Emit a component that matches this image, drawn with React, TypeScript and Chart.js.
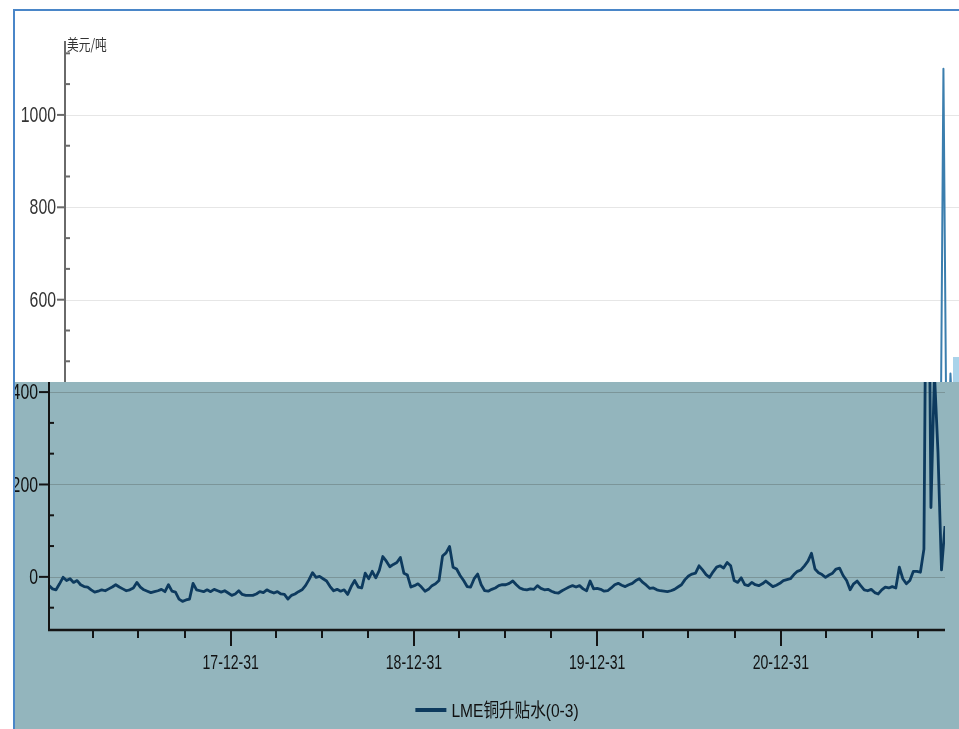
import React, { useEffect, useRef } from 'react';
import { Chart, registerables } from 'chart.js';

Chart.register(...registerables);

// ---------------- data ----------------
const startDate = '2017-01-03';
const stepDays = 7;

const spreadValues: number[] = [
  // 2017
  -19, -26, -28, -15, -1, -8, -4, -12, -8, -17,
  -21, -22, -28, -33, -31, -28, -30, -26, -22, -17,
  -22, -26, -30, -28, -24, -12, -22, -28, -31, -34,
  -32, -30, -27, -32, -17, -31, -33, -48, -53, -50,
  -48, -14, -28, -30, -32, -28, -32, -27, -30, -33,
  -30,
  // 2018
  -35, -40, -37, -30, -38, -40, -40, -40, -37,
  -32, -34, -28, -32, -35, -32, -37, -38, -48, -40,
  -37, -32, -28, -19, -6, 9, -1, 1, -4, -9,
  -21, -30, -27, -31, -28, -38, -21, -8, -22, -24,
  8, -4, 12, -2, 14, 44, 34, 22, 27, 31,
  // 2019
  42, 8, 4, -22, -19, -15, -22, -31, -27, -19,
  -15, -8, 45, 52, 66, 21, 17, 3, -8, -21,
  -22, -4, 6, -17, -30, -31, -27, -24, -19, -17,
  -17, -14, -9, -17, -24, -27, -28, -26, -27, -19,
  -25, -28, -27, -31, -34, -35, -30, -26, -22, -19,
  // 2020
  -22, -19, -26, -30, -9, -26, -25, -27, -31,
  -30, -24, -17, -14, -18, -21, -17, -14, -8, -4,
  -12, -18, -25, -24, -28, -30, -31, -32, -30, -27,
  -22, -17, -6, 2, 6, 8, 24, 15, 5, -1,
  11, 21, 24, 19, 31, 24, -8, -12, -2, -17,
  // 2021
  -19, -12, -17, -19, -15, -9, -15, -21, -18, -14,
  -8, -6, -4, 5, 12, 15, 24, 34, 51, 17,
  9, 5, -1, 4, 8, 17, 19, 3, -8, -28,
  -15, -9, -19, -28, -30, -27, -34, -37, -28, -22,
  -24, -21, -24, 21, -4, -15, -8, 12, 12, 10,
  60, 1100, 150, 440, 270, 15, 110,
];

const seriesName = 'LME铜升贴水(0-3)';
const unitText = '美元/吨';

const yMin = -115;
const yMax = 1160;
const yLabeledTicks = [0, 200, 400, 600, 800, 1000];
const yMinorTicks = [-66.7, 66.7, 133.3, 266.7, 333.3, 466.7, 533.3, 666.7, 733.3, 866.7, 933.3, 1066.7, 1133.3];

const quarterEnds = [
  '2017-03-31', '2017-06-30', '2017-09-30', '2017-12-31',
  '2018-03-31', '2018-06-30', '2018-09-30', '2018-12-31',
  '2019-03-31', '2019-06-30', '2019-09-30', '2019-12-31',
  '2020-03-31', '2020-06-30', '2020-09-30', '2020-12-31',
  '2021-03-31', '2021-06-30', '2021-09-30',
];
const yearEndLabels = ['17-12-31', '18-12-31', '19-12-31', '20-12-31'];

// ---------------- helpers ----------------
const DAY = 86400000;
const t0 = Date.parse(startDate);
const points = spreadValues.map((v, i) => ({ x: t0 + i * stepDays * DAY, y: v }));
const xMax = points[points.length - 1].x;

type Style = {
  padLeft: number;
  padRight: number;
  line: string;
  lineWidth: number;
  grid: string;
  axis: string;
  text: string;
  majorTick: number;
  minorTick: number;
  drawX: boolean;
};

function scaledText(ctx: CanvasRenderingContext2D, text: string, x: number, y: number, sx: number, align: CanvasTextAlign) {
  ctx.save();
  ctx.translate(x, y);
  ctx.scale(sx, 1);
  ctx.textAlign = align;
  ctx.fillText(text, 0, 0);
  ctx.restore();
}

function decor(s: Style) {
  return {
    id: 'decor',
    beforeDatasetsDraw(chart: any) {
      const { ctx, chartArea: a } = chart;
      const y = chart.scales.y;
      ctx.save();
      ctx.strokeStyle = s.grid;
      ctx.lineWidth = 1;
      yLabeledTicks.forEach((v) => {
        const py = Math.round(y.getPixelForValue(v)) + 0.5;
        ctx.beginPath();
        ctx.moveTo(a.left, py);
        ctx.lineTo(a.right, py);
        ctx.stroke();
      });
      ctx.restore();
    },
    afterDatasetsDraw(chart: any) {
      const { ctx, chartArea: a } = chart;
      const y = chart.scales.y;
      const x = chart.scales.x;
      ctx.save();
      ctx.strokeStyle = s.axis;
      ctx.fillStyle = s.text;
      // y axis line
      ctx.lineWidth = 2;
      ctx.beginPath();
      ctx.moveTo(a.left, a.top);
      ctx.lineTo(a.left, a.bottom);
      ctx.stroke();
      yLabeledTicks.forEach((v) => {
        const py = y.getPixelForValue(v);
        ctx.beginPath();
        ctx.moveTo(a.left - s.majorTick, py);
        ctx.lineTo(a.left, py);
        ctx.stroke();
      });
      yMinorTicks.forEach((v) => {
        const py = y.getPixelForValue(v);
        ctx.beginPath();
        ctx.moveTo(a.left, py);
        ctx.lineTo(a.left + s.minorTick, py);
        ctx.stroke();
      });
      ctx.textBaseline = 'middle';
      ctx.font = '22px "Liberation Sans", Arial, sans-serif';
      yLabeledTicks.forEach((v) => {
        scaledText(ctx, String(v), a.left - s.majorTick - 1, y.getPixelForValue(v) + 1, 0.72, 'right');
      });
      ctx.font = '15px "Noto Sans CJK SC", sans-serif';
      scaledText(ctx, unitText, a.left + 2, a.top + 3, 0.78, 'left');

      if (s.drawX) {
        ctx.lineWidth = 2.5;
        ctx.beginPath();
        ctx.moveTo(a.left - 1, a.bottom);
        ctx.lineTo(a.right, a.bottom);
        ctx.stroke();
        ctx.lineWidth = 2;
        quarterEnds.forEach((q) => {
          const px = Math.round(x.getPixelForValue(Date.parse(q)));
          const major = yearEndLabels.includes(q.slice(2));
          ctx.beginPath();
          ctx.moveTo(px, a.bottom);
          ctx.lineTo(px, a.bottom + (major ? 16 : 8));
          ctx.stroke();
        });
        ctx.font = '21px "Liberation Sans", Arial, sans-serif';
        yearEndLabels.forEach((lab) => {
          const px = x.getPixelForValue(Date.parse('20' + lab));
          scaledText(ctx, lab, px, a.bottom + 33, 0.67, 'center');
        });
        // legend
        ctx.font = '19px "Liberation Sans", "Noto Sans CJK SC", sans-serif';
        const tw = ctx.measureText(seriesName).width * 0.82;
        const total = 31 + 5 + tw;
        const start = (a.left + a.right) / 2 - total / 2;
        ctx.strokeStyle = s.line;
        ctx.lineWidth = 4;
        ctx.beginPath();
        ctx.moveTo(start, 710);
        ctx.lineTo(start + 31, 710);
        ctx.stroke();
        scaledText(ctx, seriesName, start + 36, 712, 0.82, 'left');
      }
      ctx.restore();
    },
  };
}

function makeConfig(s: Style): any {
  return {
    type: 'line',
    data: {
      datasets: [
        {
          label: seriesName,
          data: points,
          borderColor: s.line,
          borderWidth: s.lineWidth,
          pointRadius: 0,
          tension: 0,
          fill: false,
          borderJoinStyle: 'round',
        },
      ],
    },
    options: {
      animation: false,
      responsive: false,
      maintainAspectRatio: false,
      events: [],
      layout: { padding: { left: s.padLeft, right: s.padRight, top: 41, bottom: 99 } },
      plugins: { legend: { display: false }, tooltip: { enabled: false }, title: { display: false } },
      scales: {
        x: { type: 'linear', min: t0, max: xMax, display: false },
        y: { type: 'linear', min: yMin, max: yMax, display: false },
      },
    },
    plugins: [decor(s)],
  };
}

const topStyle: Style = {
  padLeft: 65,
  padRight: 14,
  line: '#3b7eae',
  lineWidth: 2,
  grid: '#e6e6e6',
  axis: '#6a6a6a',
  text: '#333333',
  majorTick: 8,
  minorTick: 5,
  drawX: false,
};

const bottomStyle: Style = {
  padLeft: 49,
  padRight: 14,
  line: '#0d3a5e',
  lineWidth: 2.8,
  grid: 'rgba(95,110,108,0.45)',
  axis: '#141414',
  text: '#111111',
  majorTick: 10,
  minorTick: 5,
  drawX: true,
};

export default function App() {
  const topRef = useRef<HTMLCanvasElement>(null);
  const botRef = useRef<HTMLCanvasElement>(null);

  useEffect(() => {
    const top = new Chart(topRef.current as HTMLCanvasElement, makeConfig(topStyle));
    const bot = new Chart(botRef.current as HTMLCanvasElement, makeConfig(bottomStyle));
    return () => {
      top.destroy();
      bot.destroy();
    };
  }, []);

  return (
    <div style={{ position: 'fixed', left: 0, top: 0, width: 959, height: 729, overflow: 'hidden', background: '#ffffff' }}>
      <canvas ref={topRef} width={975} height={729} style={{ position: 'absolute', left: 0, top: 0, width: 975, height: 729 }} />
      <div style={{ position: 'absolute', left: 15, top: 382, width: 944, height: 347, overflow: 'hidden', background: '#93b5bd' }}>
        <canvas ref={botRef} width={959} height={729} style={{ position: 'absolute', left: -15, top: -382, width: 959, height: 729 }} />
      </div>
      <div style={{ position: 'absolute', left: 953, top: 357, width: 6, height: 25, background: '#a9d3ea' }} />
      <div style={{ position: 'absolute', left: 13, top: 9, width: 2, height: 720, background: '#4a86c8' }} />
      <div style={{ position: 'absolute', left: 13, top: 9, width: 946, height: 2, background: '#4a86c8' }} />
    </div>
  );
}
